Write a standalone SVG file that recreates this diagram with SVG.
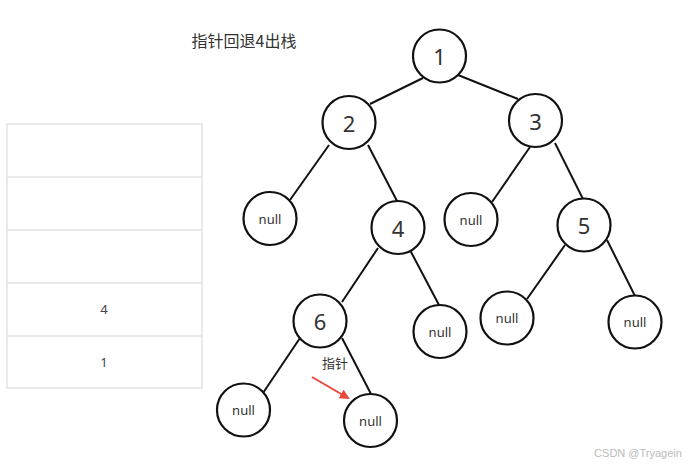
<svg xmlns="http://www.w3.org/2000/svg" width="695" height="469" viewBox="0 0 695 469">
<style>
.n circle{fill:#fff;stroke:#111;stroke-width:2.2}
.num{font-family:"Noto Sans","Open Sans",sans-serif;font-size:22px;fill:#333;text-anchor:middle;dominant-baseline:central}
.nul{font-family:"Noto Sans","Open Sans",sans-serif;font-size:13px;fill:#333;text-anchor:middle;dominant-baseline:central}
.e line{stroke:#111;stroke-width:2}
.cell{fill:none;stroke:#e2e2e2;stroke-width:1.5}
.cj{font-family:"Noto Sans CJK SC","Noto Sans",sans-serif;fill:#333}
.st{font-family:"Noto Sans","Open Sans",sans-serif;font-size:13px;fill:#444;text-anchor:middle;dominant-baseline:central}
</style>
<defs>
<marker id="ah" markerWidth="10" markerHeight="10" refX="8" refY="5" orient="auto" markerUnits="userSpaceOnUse">
<path d="M0,0 L10,5 L0,10 z" fill="#e8473a"/>
</marker>
</defs>
<rect width="695" height="469" fill="#fff"/>
<text x="244" y="40" class="cj" font-size="16" text-anchor="middle" dominant-baseline="central">指针回退4出栈</text>
<g id="stack">
<rect x="7" y="124" width="195" height="264" class="cell"/>
<line x1="7" y1="177" x2="202" y2="177" class="cell"/>
<line x1="7" y1="230" x2="202" y2="230" class="cell"/>
<line x1="7" y1="283" x2="202" y2="283" class="cell"/>
<line x1="7" y1="336" x2="202" y2="336" class="cell"/>
<text x="104" y="309" class="st">4</text>
<text x="104" y="362" class="st">1</text>
</g>
<g id="edges" class="e">
<line x1="423" y1="78" x2="370" y2="104"/>
<line x1="458" y1="75" x2="518" y2="99"/>
<line x1="329" y1="145" x2="290" y2="200"/>
<line x1="368" y1="145" x2="397" y2="201"/>
<line x1="530" y1="147" x2="492" y2="202"/>
<line x1="555" y1="143" x2="583" y2="199"/>
<line x1="378" y1="248" x2="342" y2="302"/>
<line x1="410" y1="250" x2="439" y2="305"/>
<line x1="565" y1="245" x2="527" y2="299"/>
<line x1="607" y1="240" x2="635" y2="296"/>
<line x1="300" y1="338" x2="263" y2="393"/>
<line x1="342" y1="338" x2="371" y2="394"/>
</g>
<g id="n1" class="n"><circle cx="439.5" cy="56" r="26.5"/><text x="439.5" y="56" class="num">1</text></g>
<g id="n2" class="n"><circle cx="349" cy="122.5" r="26.5"/><text x="349" y="122.5" class="num">2</text></g>
<g id="n3" class="n"><circle cx="535.5" cy="120.5" r="26.5"/><text x="535.5" y="120.5" class="num">3</text></g>
<g id="null2l" class="n"><circle cx="270" cy="218.5" r="26.5"/><text x="270" y="218.5" class="nul">null</text></g>
<g id="n4" class="n"><circle cx="398" cy="227.5" r="26.5"/><text x="398" y="227.5" class="num">4</text></g>
<g id="null3l" class="n"><circle cx="471" cy="219.5" r="26.5"/><text x="471" y="219.5" class="nul">null</text></g>
<g id="n5" class="n"><circle cx="584" cy="225" r="26.5"/><text x="584" y="225" class="num">5</text></g>
<g id="n6" class="n"><circle cx="320" cy="321" r="26.5"/><text x="320" y="321" class="num">6</text></g>
<g id="null4r" class="n"><circle cx="440" cy="331.5" r="26.5"/><text x="440" y="331.5" class="nul">null</text></g>
<g id="null5l" class="n"><circle cx="507" cy="318" r="26.5"/><text x="507" y="318" class="nul">null</text></g>
<g id="null5r" class="n"><circle cx="635" cy="322" r="26.5"/><text x="635" y="322" class="nul">null</text></g>
<g id="null6l" class="n"><circle cx="243.5" cy="410" r="26.5"/><text x="243.5" y="410" class="nul">null</text></g>
<g id="null6r" class="n"><circle cx="370.5" cy="420.5" r="26.5"/><text x="370.5" y="420.5" class="nul">null</text></g>
<g id="pointer">
<text x="335" y="362" class="cj" font-size="13" fill="#555" text-anchor="middle" dominant-baseline="central">指针</text>
<line x1="312" y1="377" x2="348" y2="398" stroke="#e8473a" stroke-width="2" marker-end="url(#ah)"/>
</g>
<text x="638" y="453" font-family="'Liberation Sans',sans-serif" font-size="11" fill="#bbb" text-anchor="middle" dominant-baseline="central">CSDN @Tryagein</text>
</svg>
